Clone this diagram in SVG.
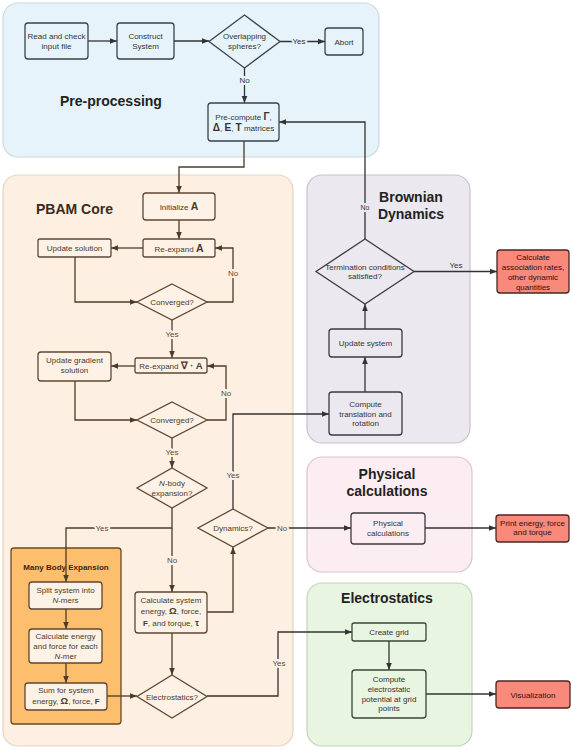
<svg xmlns="http://www.w3.org/2000/svg" width="573" height="750" viewBox="0 0 573 750">
<style>
text{font-family:"Liberation Sans",Arial,sans-serif;font-size:8px;text-anchor:middle}
.title{font-size:14px;font-weight:bold;fill:#222}
.ct{font-size:14px;font-weight:bold;fill:#3a2a1a;text-anchor:start}
.b{font-weight:bold}
.pre rect,.pre polygon{fill:#e6f3fb;stroke:#39444c;stroke-width:1.3}
.pre text{fill:#333}
.core rect,.core polygon{fill:#fdf2e5;stroke:#5c4733;stroke-width:1.3}
.core text{fill:#4a3a2a}
.bd rect,.bd polygon{fill:#ece8ef;stroke:#3c3940;stroke-width:1.3}
.bd text{fill:#333}
.ph rect{fill:#fcedf2;stroke:#3c3940;stroke-width:1.3}
.es rect{fill:#e8f5e1;stroke:#3b4636;stroke-width:1.3}
.es text,.ph text{fill:#333}
.red rect{fill:#f8897b;stroke:#4a2622;stroke-width:1.3}
.red text{fill:#2a1210}
.c{fill:none;stroke:#333;stroke-width:1.3;marker-end:url(#ah)}
.cb{fill:none;stroke:#4d3b2a;stroke-width:1.3;marker-end:url(#ahb)}
.n{fill:none;stroke:#4d3b2a;stroke-width:1.3}
.lbl{paint-order:stroke;stroke-width:4;stroke-linejoin:round}
</style>
<defs>
<marker id="ah" viewBox="0 0 10 10" refX="10" refY="5" markerWidth="7" markerHeight="7" markerUnits="userSpaceOnUse" orient="auto"><path d="M0,1 L10,5 L0,9 z" fill="#333"/></marker>
<marker id="ahb" viewBox="0 0 10 10" refX="10" refY="5" markerWidth="7" markerHeight="7" markerUnits="userSpaceOnUse" orient="auto"><path d="M0,1 L10,5 L0,9 z" fill="#4d3b2a"/></marker>
</defs>
<rect width="573" height="750" fill="#fff"/>
<g id="containers">
<g id="c-pre"><rect x="3" y="3" width="376" height="154" rx="15" fill="#e7f3fb" stroke="#cbd9e3" stroke-width="1.2"/><text class="ct" x="60" y="106" style="fill:#222">Pre-processing</text></g>
<g id="c-core"><rect x="3" y="175" width="290" height="571" rx="15" fill="#fdf0e2" stroke="#e6d3bf" stroke-width="1.2"/><text class="ct" x="36" y="214">PBAM Core</text></g>
<g id="c-mbe"><rect x="11" y="548" width="110" height="176" rx="3" fill="#fdbe6d" stroke="#6b4a20" stroke-width="1.3"/><text x="66" y="570" class="b" style="fill:#3a2810">Many Body Expansion</text></g>
<g id="c-bd"><rect x="307" y="175" width="163" height="268" rx="15" fill="#ece8ef" stroke="#c9c2cc" stroke-width="1.2"/><text class="title" x="411" y="202">Brownian</text><text class="title" x="411" y="219">Dynamics</text></g>
<g id="c-ph"><rect x="307" y="457" width="165" height="115" rx="15" fill="#fcedf2" stroke="#d9c5cd" stroke-width="1.2"/><text class="title" x="387" y="479">Physical</text><text class="title" x="387" y="496">calculations</text></g>
<g id="c-es"><rect x="307" y="583" width="165" height="163" rx="15" fill="#e8f5e1" stroke="#c3d4bb" stroke-width="1.2"/><text class="title" x="387" y="603">Electrostatics</text></g>
</g>
<g id="connectors">
<path class="c" d="M88,41 H117"/>
<path class="c" d="M174,41 H209"/>
<path class="c" d="M280,41.5 H325"/>
<path class="c" d="M244.5,68 V103"/>
<path class="cb" d="M244,141 V167 H179 V193"/>
<path class="c" d="M365,239 V122 H279"/>
<path class="cb" d="M179,220 V239"/>
<path class="cb" d="M143,248 H111"/>
<path class="cb" d="M75,257 V302 H137"/>
<path class="cb" d="M207,302 H233 V248 H215"/>
<path class="cb" d="M172,320 V358"/>
<path class="cb" d="M135,366 H111"/>
<path class="cb" d="M75,381 V420 H137"/>
<path class="cb" d="M207,420 H226 V366 H207"/>
<path class="cb" d="M172,438 V468"/>
<path class="cb" d="M172,508 V528 H66 V582"/>
<path class="cb" d="M172,528 V592"/>
<path class="cb" d="M66,609 V629"/>
<path class="cb" d="M66,663 V683"/>
<path class="cb" d="M107,696 H137"/>
<path class="cb" d="M172,633 V675"/>
<path class="cb" d="M207,612 H233 V547"/>
<path class="c" d="M233,509 V414 H329"/>
<path class="c" d="M268,528 H351"/>
<path class="c" d="M425,528 H496"/>
<path class="c" d="M207,696 H278 V632 H352"/>
<path class="c" d="M389,641 V670"/>
<path class="c" d="M426,694 H496"/>
<path class="c" d="M365,392 V357"/>
<path class="c" d="M365,329 V304"/>
<path class="c" d="M414,271.5 H497"/>
<text class="lbl" x="299" y="44" style="fill:#333;stroke:#e7f3fb">Yes</text>
<text class="lbl" x="244.5" y="83" style="fill:#333;stroke:#e7f3fb">No</text>
<text class="lbl" x="365" y="210" style="fill:#333;stroke:#ece8ef;font-size:7px">No</text>
<text class="lbl" x="233" y="276" style="fill:#5a4a3a;stroke:#fdf0e2">No</text>
<text class="lbl" x="172" y="337" style="fill:#5a4a3a;stroke:#fdf0e2">Yes</text>
<text class="lbl" x="226" y="396" style="fill:#5a4a3a;stroke:#fdf0e2">No</text>
<text class="lbl" x="172" y="455" style="fill:#5a4a3a;stroke:#fdf0e2">Yes</text>
<text class="lbl" x="233" y="478" style="fill:#5a4a3a;stroke:#fdf0e2">Yes</text>
<text class="lbl" x="102" y="531" style="fill:#5a4a3a;stroke:#fdf0e2">Yes</text>
<text class="lbl" x="172" y="563" style="fill:#5a4a3a;stroke:#fdf0e2">No</text>
<text class="lbl" x="282" y="531" style="fill:#5a4a3a;stroke:#fdf0e2">No</text>
<text class="lbl" x="279" y="666" style="fill:#5a4a3a;stroke:#fdf0e2">Yes</text>
<text x="456" y="268" style="fill:#333">Yes</text>
</g>
<g id="n-read" class="pre"><rect x="25" y="23" width="63" height="36" rx="3"/><text x="56.5" y="39">Read and check</text><text x="56.5" y="48.5">input file</text></g>
<g id="n-construct" class="pre"><rect x="117" y="23" width="57" height="36" rx="3"/><text x="145.5" y="39">Construct</text><text x="145.5" y="48.5">System</text></g>
<g id="n-overlap" class="pre"><polygon points="244.5,15 280,41.5 244.5,68 209,41.5"/><text x="244.5" y="39">Overlapping</text><text x="244.5" y="48.5">spheres?</text></g>
<g id="n-abort" class="pre"><rect x="325" y="28" width="38" height="27" rx="3"/><text x="344" y="44.5">Abort</text></g>
<g id="n-precompute" class="pre"><rect x="208" y="103" width="71" height="38" rx="3"/><text x="243.5" y="119.5">Pre-compute <tspan class="b" font-size="10">Γ</tspan>,</text><text x="243.5" y="130.5"><tspan class="b" font-size="10">Δ</tspan>, <tspan class="b" font-size="10">E</tspan>, <tspan class="b" font-size="10">T</tspan> matrices</text></g>
<g id="n-init" class="core"><rect x="143" y="193" width="72" height="27" rx="3"/><text x="179" y="210">Initialize <tspan class="b" font-size="10.5">A</tspan></text></g>
<g id="n-reexpA" class="core"><rect x="143" y="239" width="72" height="18" rx="2"/><text x="179" y="251.5">Re-expand <tspan class="b" font-size="10.5">A</tspan></text></g>
<g id="n-updsol" class="core"><rect x="38" y="239" width="73" height="18" rx="2"/><text x="74.5" y="251">Update solution</text></g>
<g id="n-conv1" class="core"><polygon points="172,284 207,302 172,320 137,302"/><text x="172" y="305">Converged?</text></g>
<g id="n-reexpG" class="core"><rect x="135" y="358" width="72" height="15" rx="2"/><text x="171" y="369">Re-expand <tspan class="b" font-size="9.5">∇ · A</tspan></text></g>
<g id="n-updgrad" class="core"><rect x="38" y="352" width="73" height="29" rx="3"/><text x="74.5" y="363">Update gradient</text><text x="74.5" y="373">solution</text></g>
<g id="n-conv2" class="core"><polygon points="172,402 207,420 172,438 137,420"/><text x="172" y="423">Converged?</text></g>
<g id="n-nbody" class="core"><polygon points="172,468 207,488 172,508 137,488"/><text x="172" y="486"><tspan font-style="italic">N</tspan>-body</text><text x="172" y="495.5">expansion?</text></g>
<g id="n-split" class="core"><rect x="29" y="582" width="73" height="27" rx="3"/><text x="65.5" y="593">Split system into</text><text x="65.5" y="602.5"><tspan font-style="italic">N</tspan>-mers</text></g>
<g id="n-calcnmer" class="core"><rect x="29" y="629" width="73" height="34" rx="3"/><text x="65.5" y="639">Calculate energy</text><text x="65.5" y="649">and force for each</text><text x="65.5" y="658.5"><tspan font-style="italic">N</tspan>-mer</text></g>
<g id="n-sum" class="core"><rect x="25" y="683" width="82" height="27" rx="3"/><text x="66" y="693">Sum for system</text><text x="66" y="704">energy, <tspan class="b" font-size="9.5">Ω</tspan>, force, <tspan class="b">F</tspan></text></g>
<g id="n-calcsys" class="core"><rect x="135" y="592" width="72" height="41" rx="3"/><text x="171" y="603">Calculate system</text><text x="171" y="614">energy, <tspan class="b" font-size="9.5">Ω</tspan>, force,</text><text x="171" y="625.5"><tspan class="b">F</tspan>, and torque, <tspan class="b" font-size="9">τ</tspan></text></g>
<g id="n-dyn" class="core"><polygon points="233,509 268,528 233,547 198,528"/><text x="233" y="531">Dynamics?</text></g>
<g id="n-estat" class="core"><polygon points="172,675 207,696.5 172,718 137,696.5"/><text x="172" y="699.5">Electrostatics?</text></g>
<g id="n-term" class="bd"><polygon points="365,239 414,271.5 365,304 316,271.5"/><text x="365" y="270">Termination conditions</text><text x="365" y="278.5">satisfied?</text></g>
<g id="n-updsys" class="bd"><rect x="329" y="329" width="73" height="28" rx="3"/><text x="365.5" y="346">Update system</text></g>
<g id="n-comptrans" class="bd"><rect x="329" y="392" width="73" height="43" rx="3"/><text x="365.5" y="406.5">Compute</text><text x="365.5" y="416.5">translation and</text><text x="365.5" y="426">rotation</text></g>
<g id="n-assoc" class="red"><rect x="497" y="250" width="72" height="43" rx="3"/><text x="533" y="259.5">Calculate</text><text x="533" y="269.5">association rates,</text><text x="533" y="279.5">other dynamic</text><text x="533" y="289.5">quantities</text></g>
<g id="n-phys" class="ph"><rect x="351" y="513" width="74" height="31" rx="3"/><text x="388" y="526">Physical</text><text x="388" y="535.5">calculations</text></g>
<g id="n-print" class="red"><rect x="496" y="515" width="73" height="27" rx="3"/><text x="532.5" y="525.5">Print energy, force</text><text x="532.5" y="535">and torque</text></g>
<g id="n-grid" class="es"><rect x="352" y="623" width="74" height="18" rx="2"/><text x="389" y="635">Create grid</text></g>
<g id="n-potential" class="es"><rect x="352" y="670" width="74" height="48" rx="3"/><text x="389" y="682">Compute</text><text x="389" y="692">electrostatic</text><text x="389" y="701.5">potential at grid</text><text x="389" y="711">points</text></g>
<g id="n-vis" class="red"><rect x="496" y="681" width="74" height="27" rx="3"/><text x="533" y="697.5">Visualization</text></g>
</svg>
